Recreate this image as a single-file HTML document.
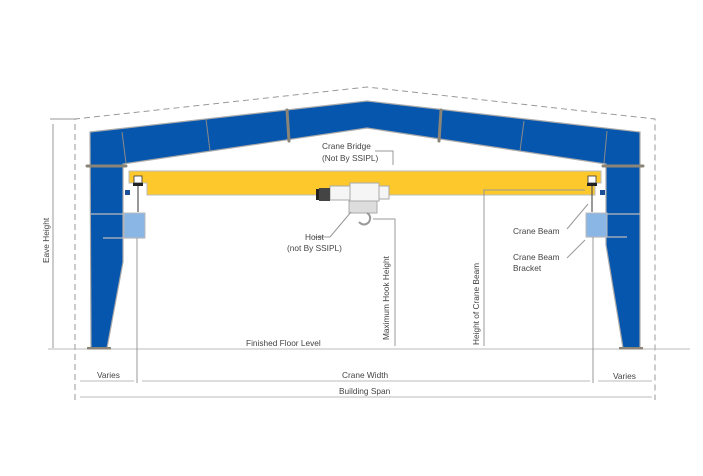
<!DOCTYPE html>
<html><head><meta charset="utf-8"><style>
html,body{margin:0;padding:0;background:#fff;}
svg{display:block;}
text{font-family:"Liberation Sans",sans-serif;font-size:8.3px;fill:#444;}
</style></head><body>
<svg width="703" height="476" viewBox="0 0 703 476" xmlns="http://www.w3.org/2000/svg">
<g stroke="#999" stroke-width="1" stroke-dasharray="6,4" fill="none">
<polyline points="75,400 75,119 367,87 655,119 655,400"/>
</g>
<line x1="50" y1="119" x2="75" y2="119" stroke="#999"/>
<g fill="#0756ad" stroke="#aaa" stroke-width="1.2">
<polygon points="90,132 367,101 640,132 640,348 623,348 606,245 606,164 367,128 123,164 123,262 107,348 91,348"/>
</g>
<g stroke="#8a8a8a" stroke-width="1">
<line x1="122" y1="132" x2="126" y2="163"/>
<line x1="206" y1="119" x2="210" y2="151"/>
<line x1="524" y1="121" x2="520" y2="151"/>
<line x1="607" y1="131" x2="604" y2="163"/>
</g>
<g stroke="#8b8577" stroke-width="3" stroke-linecap="round">
<line x1="287" y1="110" x2="289" y2="141"/>
<line x1="441" y1="110" x2="439" y2="141"/>
<line x1="87" y1="166" x2="126" y2="166"/>
<line x1="603" y1="166" x2="643" y2="166"/>
</g>
<line x1="48" y1="349" x2="690" y2="349" stroke="#bbb" stroke-width="1"/>
<rect x="87" y="347" width="24" height="2.5" fill="#8b8577"/>
<rect x="619" y="347" width="24" height="2.5" fill="#8b8577"/>
<g stroke="#bbb" stroke-width="1.2">
<line x1="91" y1="214" x2="124" y2="214"/>
<line x1="103" y1="238" x2="145" y2="238"/>
<line x1="606" y1="214" x2="640" y2="214"/>
<line x1="586" y1="237" x2="627" y2="237"/>
</g>
<polygon points="129,171 601,171 601,183 595,183 595,195 488,195 147,195 147,183 129,183" fill="#fcc82b" stroke="#bbb" stroke-width="1"/>
<line x1="483" y1="190" x2="585" y2="190" stroke="#999"/>
<g fill="#fff" stroke="#333" stroke-width="0.8">
<rect x="134" y="176" width="8" height="7"/>
<rect x="588" y="176" width="8" height="7"/>
</g>
<g fill="#222">
<rect x="133" y="183" width="10" height="3"/>
<rect x="587" y="183" width="10" height="3"/>
</g>
<g stroke="#555" stroke-width="1.2">
<line x1="138" y1="186" x2="138" y2="212"/>
<line x1="592" y1="186" x2="592" y2="212"/>
</g>
<rect x="125" y="190" width="5" height="5" fill="#1d4f96"/>
<rect x="600" y="190" width="5" height="5" fill="#1d4f96"/>
<rect x="124" y="213" width="21" height="25" fill="#8ab6e6" stroke="#bbb"/>
<rect x="586" y="213" width="21" height="24" fill="#8ab6e6" stroke="#bbb"/>
<g stroke="#999" stroke-width="1">
<line x1="137" y1="238" x2="137" y2="383"/>
<line x1="593" y1="237" x2="593" y2="383"/>
</g>
<g stroke="#aaa" stroke-width="1" fill="#f5f5f5">
<rect x="330" y="186" width="20" height="14"/>
<rect x="350" y="183" width="29" height="18"/>
<rect x="379" y="186" width="10" height="13"/>
<rect x="349" y="201" width="28" height="12" fill="#ddd"/>
</g>
<rect x="316" y="189" width="3" height="11" fill="#222"/>
<rect x="319" y="188" width="11" height="13" fill="#444"/>
<path d="M367,213 q5,3 2,9 q-5,5 -10,0" fill="none" stroke="#999" stroke-width="2"/>
<g stroke="#999" stroke-width="1" fill="none">
<polyline points="373,219 395,219 395,346"/>
<line x1="484" y1="190" x2="484" y2="346"/>
<polyline points="375,151 393,151 393,165"/>
<line x1="351" y1="212" x2="330" y2="237"/>
<line x1="314" y1="237" x2="330" y2="237"/>
<line x1="567" y1="229" x2="588" y2="204"/>
<line x1="567" y1="258" x2="585" y2="240"/>
<line x1="53" y1="124" x2="53" y2="348"/>
</g>
<g stroke="#bbb" stroke-width="1">
<line x1="80" y1="381" x2="134" y2="381"/>
<line x1="142" y1="381" x2="590" y2="381"/>
<line x1="598" y1="381" x2="652" y2="381"/>
<line x1="80" y1="397" x2="652" y2="397"/>
</g>
<text x="322" y="149">Crane Bridge</text>
<text x="322" y="161">(Not By SSIPL)</text>
<text x="305" y="240">Hoist</text>
<text x="287" y="251">(not By SSIPL)</text>
<text x="513" y="234">Crane Beam</text>
<text x="513" y="260">Crane Beam</text>
<text x="513" y="271">Bracket</text>
<text x="246" y="346">Finished Floor Level</text>
<text x="97" y="378">Varies</text>
<text x="342" y="378">Crane Width</text>
<text x="613" y="379">Varies</text>
<text x="339" y="394">Building Span</text>
<text transform="translate(49,263) rotate(-90)">Eave Height</text>
<text transform="translate(389,340) rotate(-90)">Maximum Hook Height</text>
<text transform="translate(479,345) rotate(-90)">Height of Crane Beam</text>
</svg>
</body></html>
